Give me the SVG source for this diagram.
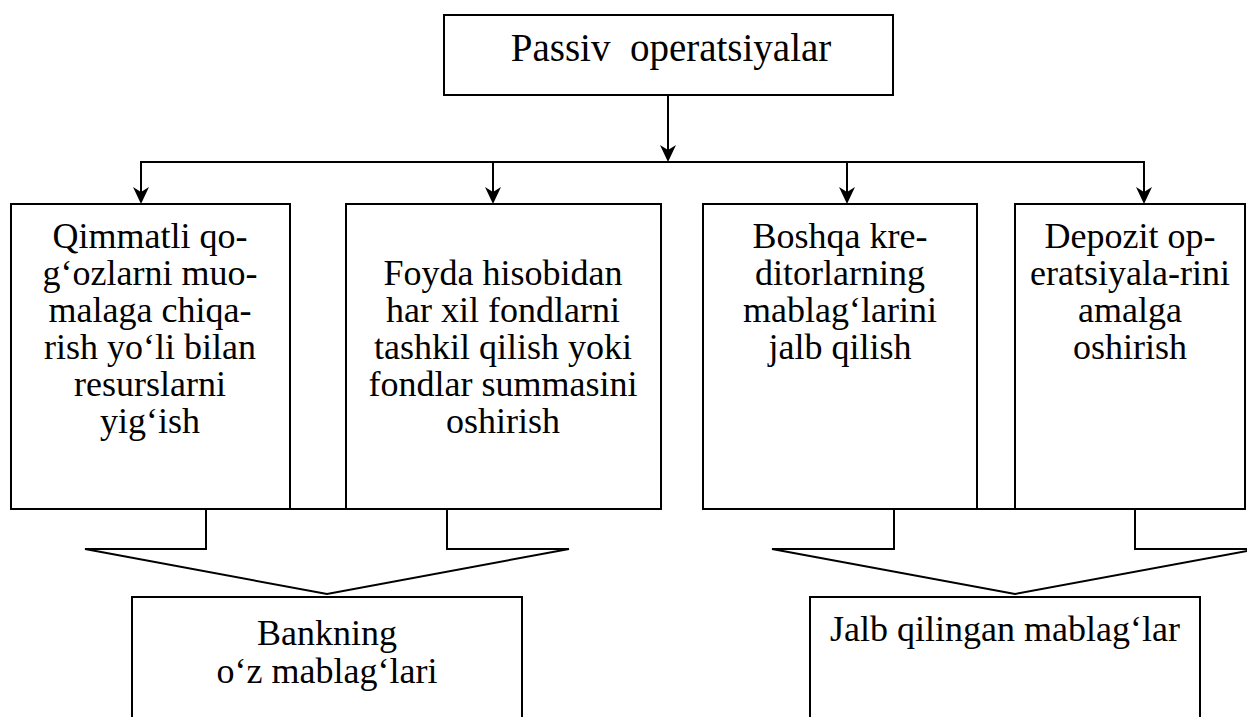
<svg xmlns="http://www.w3.org/2000/svg" width="1247" height="717" viewBox="0 0 1247 717">
<defs>
<style>
.box{fill:#fff;stroke:#000;stroke-width:2}
.blk{fill:#fff;stroke:#000;stroke-width:2;stroke-linejoin:miter}
.ln{fill:none;stroke:#000;stroke-width:2}
.ah{fill:#000}
.t{font-family:"Liberation Serif","Times New Roman",serif;font-size:36px;fill:#000;text-anchor:middle}
.tt{font-family:"Liberation Serif","Times New Roman",serif;font-size:39px;fill:#000;text-anchor:middle}
</style>
</defs>
<rect width="1247" height="717" fill="#fff"/>
<g id="top">
<rect class="box" x="444" y="15" width="449" height="80"/>
<text class="tt" x="671" y="61">Passiv&#160; operatsiyalar</text>
</g>
<g id="connectors">
<line class="ln" x1="668" y1="95" x2="668" y2="155"/>
<path class="ln" d="M141,197 L141,162 L1144,162 L1144,197"/>
<line class="ln" x1="493" y1="162" x2="493" y2="197"/>
<line class="ln" x1="847" y1="162" x2="847" y2="197"/>
<path class="ah" d="M660,145 L668,150 L676,145 L668,162 Z"/>
<path class="ah" d="M133,187 L141,192 L149,187 L141,204 Z"/>
<path class="ah" d="M485,187 L493,192 L501,187 L493,204 Z"/>
<path class="ah" d="M839,187 L847,192 L855,187 L847,204 Z"/>
<path class="ah" d="M1136,187 L1144,192 L1152,187 L1144,204 Z"/>
</g>
<g id="n1">
<rect class="box" x="11" y="204" width="279" height="305"/>
<text class="t" x="150" y="248">Qimmatli qo-</text>
<text class="t" x="150" y="285">g‘ozlarni muo-</text>
<text class="t" x="150" y="322">malaga chiqa-</text>
<text class="t" x="150" y="359">rish yo‘li bilan</text>
<text class="t" x="150" y="396">resurslarni</text>
<text class="t" x="150" y="433">yig‘ish</text>
</g>
<g id="n2">
<rect class="box" x="346" y="204" width="315" height="305"/>
<text class="t" x="503" y="285">Foyda hisobidan</text>
<text class="t" x="503" y="322">har xil fondlarni</text>
<text class="t" x="503" y="359">tashkil qilish yoki</text>
<text class="t" x="503" y="396">fondlar summasini</text>
<text class="t" x="503" y="433">oshirish</text>
</g>
<g id="n3">
<rect class="box" x="703" y="204" width="274" height="305"/>
<text class="t" x="840" y="248">Boshqa kre-</text>
<text class="t" x="840" y="285">ditorlarning</text>
<text class="t" x="840" y="322">mablag‘larini</text>
<text class="t" x="840" y="359">jalb qilish</text>
</g>
<g id="n4">
<rect class="box" x="1015" y="204" width="230" height="305"/>
<text class="t" x="1130" y="248">Depozit op-</text>
<text class="t" x="1130" y="285">eratsiyala-rini</text>
<text class="t" x="1130" y="322">amalga</text>
<text class="t" x="1130" y="359">oshirish</text>
</g>
<g id="arrowL">
<polygon class="blk" points="206,509 206,549 85,549 327,594 569,549 447,549 447,509"/>
</g>
<g id="arrowR">
<polygon class="blk" points="894,509 894,549 772,549 1015,594 1258,549 1135,549 1135,509"/>
</g>
<g id="b1">
<rect class="box" x="132" y="597" width="390" height="140"/>
<text class="t" x="327" y="645">Bankning</text>
<text class="t" x="327" y="683">o‘z mablag‘lari</text>
</g>
<g id="b2">
<rect class="box" x="810" y="597" width="390" height="140"/>
<text class="t" x="1005" y="641">Jalb qilingan mablag‘lar</text>
</g>
</svg>
